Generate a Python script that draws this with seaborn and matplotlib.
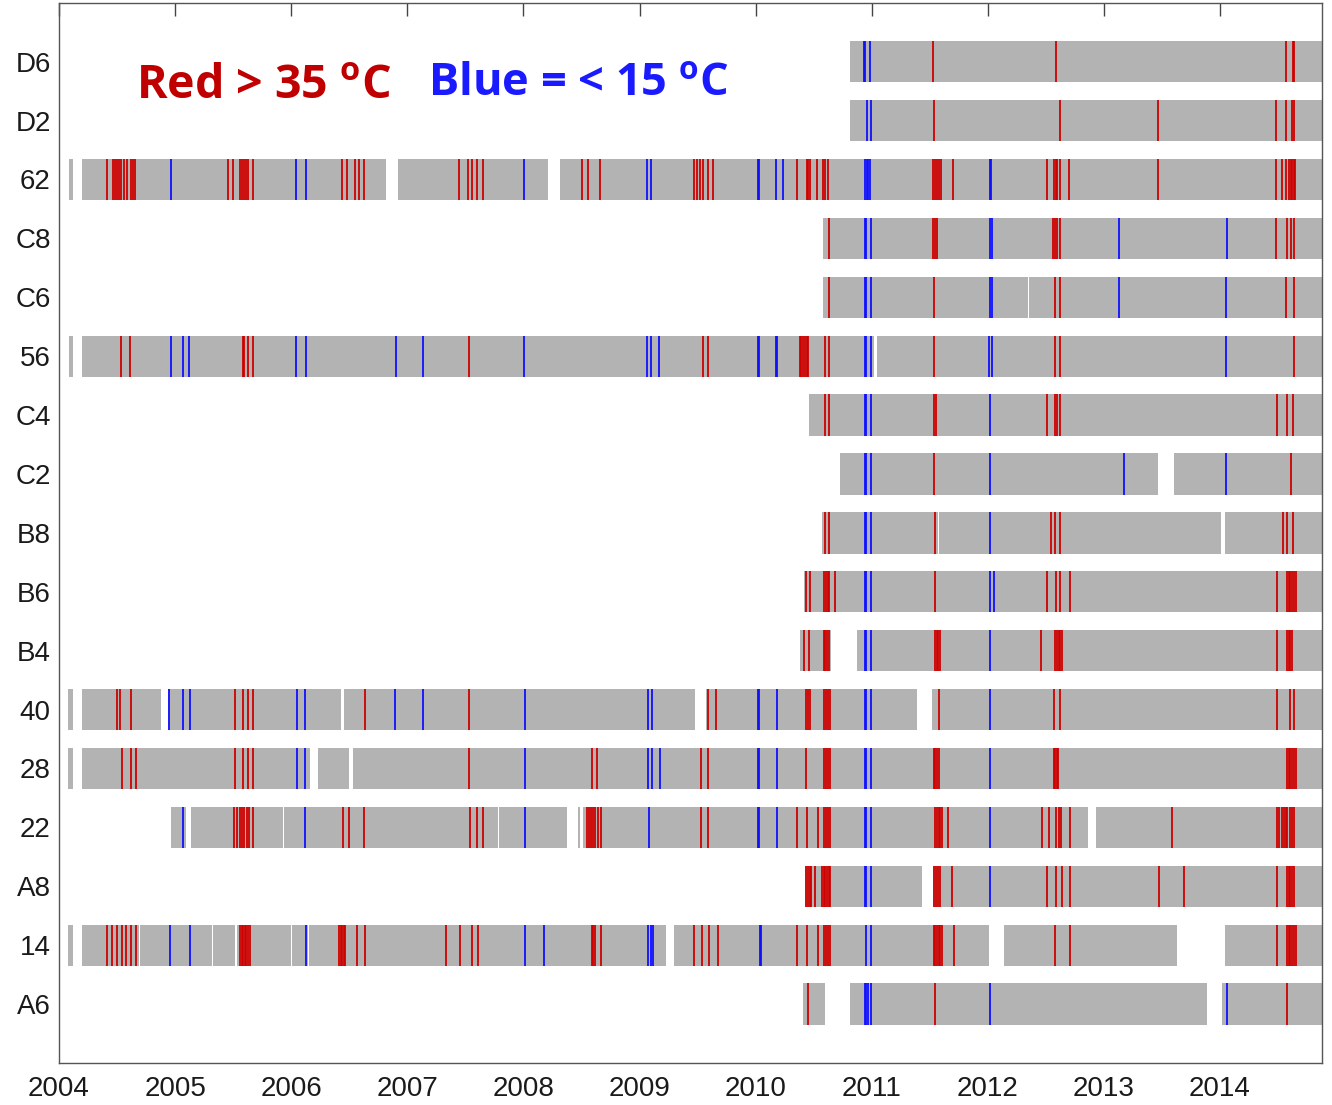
import matplotlib
matplotlib.use("Agg")
import matplotlib.pyplot as plt
import seaborn as sns

# Stations, top to bottom
STATIONS = ["D6", "D2", "62", "C8", "C6", "56", "C4", "C2", "B8",
            "B6", "B4", "40", "28", "22", "A8", "14", "A6"]

END = 2014.88  # records still running at the end of the plotted period

# Logged periods (start, end) in decimal years, plus days above 35 degC (hot)
# and below 15 degC (cold) for each station
D6_SEG = [(2010.81, END)]
D6_HOT = [2011.53, 2012.585, 2014.568, 2014.63, 2014.64]
D6_COLD = [2010.935, 2010.945, 2010.985]

D2_SEG = [(2010.81, END)]
D2_HOT = [2011.537, 2012.622, 2013.466, 2014.485, 2014.568, 2014.62, 2014.635]
D2_COLD = [2010.957, 2010.99]

S62_SEG = [(2004.086, 2004.118), (2004.195, 2006.816), (2006.917, 2008.215), (2008.315, END)]
S62_HOT = [2004.413, 2004.465, 2004.48, 2004.5, 2004.517, 2004.534, 2004.56, 2004.586,
           2004.62, 2004.637, 2004.655, 2005.456, 2005.5, 2005.559, 2005.576, 2005.593,
           2005.61, 2005.628, 2005.671, 2006.435, 2006.478, 2006.55, 2006.584, 2006.627,
           2007.445, 2007.525, 2007.555, 2007.598, 2007.655, 2008.502, 2008.559, 2008.66,
           2009.469, 2009.495, 2009.521, 2009.547, 2009.59, 2009.634, 2010.354, 2010.44,
           2010.455, 2010.469, 2010.526, 2010.58, 2010.6, 2010.62, 2011.53, 2011.545,
           2011.56, 2011.578, 2011.594, 2011.698, 2012.507, 2012.57, 2012.583, 2012.593,
           2012.622, 2012.7, 2013.468, 2014.48, 2014.532, 2014.568, 2014.597, 2014.61,
           2014.623, 2014.636, 2014.646]
S62_COLD = [2004.962, 2006.041, 2006.125, 2008.008, 2009.062, 2009.096, 2010.018,
            2010.028, 2010.176, 2010.239, 2010.942, 2010.955, 2010.968, 2010.985,
            2012.015, 2012.025]

C8_SEG = [(2010.578, END)]
C8_HOT = [2010.63, 2011.53, 2011.545, 2011.56, 2012.565, 2012.58, 2012.595, 2012.622,
          2014.482, 2014.574, 2014.609, 2014.637]
C8_COLD = [2010.94, 2010.952, 2010.99, 2012.019, 2012.04, 2013.133, 2014.058]

C6_SEG = [(2010.578, 2012.345), (2012.355, END)]
C6_HOT = [2010.636, 2011.537, 2012.579, 2012.622, 2014.568, 2014.637]
C6_COLD = [2010.94, 2010.952, 2010.99, 2012.019, 2012.036, 2013.133, 2014.052]

S56_SEG = [(2004.086, 2004.118), (2004.195, 2011.02), (2011.045, END)]
S56_HOT = [2004.534, 2004.612, 2005.582, 2005.595, 2005.631, 2005.673, 2007.534,
           2009.544, 2009.587, 2010.38, 2010.395, 2010.41, 2010.425, 2010.44, 2010.455,
           2010.6, 2010.635, 2011.537, 2012.579, 2012.622, 2014.64]
S56_COLD = [2004.962, 2005.071, 2005.122, 2006.041, 2006.125, 2006.9, 2007.138, 2008.008,
            2009.062, 2009.096, 2009.171, 2010.018, 2010.028, 2010.176, 2010.186,
            2010.94, 2010.952, 2010.99, 2012.013, 2012.036, 2014.052]

C4_SEG = [(2010.46, END)]
C4_HOT = [2010.6, 2010.63, 2011.54, 2011.555, 2012.51, 2012.579, 2012.6, 2012.622,
          2014.49, 2014.575, 2014.63]
C4_COLD = [2010.94, 2010.952, 2010.99, 2012.015]

C2_SEG = [(2010.723, 2013.466), (2013.605, END)]
C2_HOT = [2011.533, 2014.61]
C2_COLD = [2010.94, 2010.952, 2010.99, 2012.015, 2013.174, 2014.052]

B8_SEG = [(2010.575, 2011.568), (2011.578, 2014.005), (2014.04, END)]
B8_HOT = [2010.6, 2010.633, 2011.545, 2012.545, 2012.58, 2012.62, 2014.54, 2014.575, 2014.63]
B8_COLD = [2010.94, 2010.952, 2010.99, 2012.015]

B6_SEG = [(2010.415, END)]
B6_HOT = [2010.435, 2010.465, 2010.59, 2010.605, 2010.62, 2010.635, 2010.68, 2011.545,
          2012.51, 2012.587, 2012.622, 2012.705, 2014.49, 2014.575, 2014.59, 2014.605,
          2014.62, 2014.635, 2014.65]
B6_COLD = [2010.94, 2010.952, 2010.99, 2012.02, 2012.05]

B4_SEG = [(2010.38, 2010.647), (2010.87, END)]
B4_HOT = [2010.415, 2010.458, 2010.585, 2010.6, 2010.615, 2010.63, 2011.545, 2011.56,
          2011.575, 2011.59, 2012.46, 2012.58, 2012.595, 2012.61, 2012.625, 2012.64,
          2014.49, 2014.575, 2014.59, 2014.605, 2014.62]
B4_COLD = [2010.94, 2010.952, 2010.99, 2012.015]

S40_SEG = [(2004.08, 2004.12), (2004.197, 2004.881), (2004.937, 2006.431),
           (2006.458, 2009.474), (2009.572, 2011.386), (2011.52, END)]
S40_HOT = [2004.497, 2004.525, 2004.616, 2005.516, 2005.586, 2005.628, 2005.67, 2006.633,
           2007.533, 2009.593, 2009.663, 2010.437, 2010.45, 2010.465, 2010.59, 2010.605,
           2010.62, 2010.64, 2011.58, 2012.573, 2012.62, 2014.49, 2014.6, 2014.635]
S40_COLD = [2004.951, 2005.07, 2005.126, 2006.047, 2006.123, 2006.898, 2007.135, 2008.015,
            2009.069, 2009.104, 2010.02, 2010.03, 2010.186, 2010.94, 2010.952, 2010.99,
            2012.015]

S28_SEG = [(2004.08, 2004.12), (2004.197, 2006.158), (2006.228, 2006.5), (2006.536, END)]
S28_HOT = [2004.539, 2004.616, 2004.665, 2005.516, 2005.586, 2005.628, 2005.67, 2007.533,
           2008.594, 2008.636, 2009.53, 2009.593, 2010.437, 2010.59, 2010.605, 2010.62,
           2010.64, 2011.533, 2011.548, 2011.565, 2011.58, 2012.566, 2012.58, 2012.595,
           2012.608, 2014.575, 2014.59, 2014.605, 2014.62, 2014.635, 2014.65]
S28_COLD = [2006.047, 2006.123, 2008.015, 2009.069, 2009.104, 2009.174, 2010.02, 2010.03,
            2010.186, 2010.94, 2010.952, 2010.99, 2012.015]

S22_SEG = [(2004.965, 2005.09), (2005.14, 2005.925), (2005.935, 2007.78), (2007.79, 2008.378),
           (2008.47, 2008.49), (2008.51, 2012.86), (2012.93, END)]
S22_HOT = [2005.51, 2005.535, 2005.555, 2005.575, 2005.595, 2005.615, 2005.64, 2005.67,
           2006.444, 2006.5, 2006.626, 2007.54, 2007.596, 2007.652, 2008.545, 2008.565,
           2008.585, 2008.6, 2008.62, 2008.64, 2008.664, 2009.53,
           2009.593, 2010.36, 2010.444, 2010.535, 2010.59, 2010.605, 2010.62, 2010.64,
           2011.547, 2011.562, 2011.577, 2011.59, 2011.603, 2011.657, 2012.468, 2012.524,
           2012.59, 2012.61, 2012.63, 2012.705, 2013.585, 2014.49, 2014.51, 2014.53,
           2014.55, 2014.565, 2014.58, 2014.6, 2014.62, 2014.64]
S22_COLD = [2005.07, 2006.123, 2008.015, 2009.083, 2010.02, 2010.03, 2010.186, 2010.94,
            2010.952, 2010.99, 2012.015]

A8_SEG = [(2010.423, 2011.435), (2011.526, END)]
A8_HOT = [2010.437, 2010.45, 2010.465, 2010.478, 2010.513, 2010.569, 2010.585, 2010.6,
          2010.615, 2010.63, 2010.64, 2011.54, 2011.555, 2011.57, 2011.588, 2011.693,
          2012.51, 2012.587, 2012.635, 2012.705, 2013.474, 2013.69, 2014.49, 2014.575,
          2014.59, 2014.605, 2014.62, 2014.635]
A8_COLD = [2010.94, 2010.952, 2010.99, 2012.015]

S14_SEG = [(2004.08, 2004.12), (2004.197, 2004.685), (2004.695, 2005.315), (2005.325, 2005.512),
           (2005.53, 2005.995), (2006.005, 2006.145), (2006.155, 2009.225), (2009.3, 2012.008),
           (2012.138, 2013.627), (2014.04, END)]
S14_HOT = [2004.413, 2004.455, 2004.497, 2004.539, 2004.581, 2004.623, 2004.665, 2005.558,
           2005.572, 2005.586, 2005.6, 2005.614, 2005.628, 2005.642, 2006.41, 2006.425,
           2006.44, 2006.455, 2006.466, 2006.563, 2006.633, 2007.331, 2007.457, 2007.555,
           2007.61, 2008.588, 2008.6, 2008.615, 2008.664, 2009.467, 2009.537, 2009.6,
           2009.676, 2010.36, 2010.444, 2010.535, 2010.59, 2010.605, 2010.62, 2010.64,
           2011.533, 2011.548, 2011.563, 2011.578, 2011.59, 2011.603, 2011.707, 2012.58,
           2012.712, 2014.49, 2014.575, 2014.59, 2014.605, 2014.62, 2014.635, 2014.65]
S14_COLD = [2004.958, 2005.126, 2006.13, 2008.015, 2008.175, 2009.076, 2009.097,
            2009.118, 2010.035, 2010.045, 2010.947, 2010.99]

A6_SEG = [(2010.41, 2010.6), (2010.81, 2013.885), (2014.015, END)]
A6_HOT = [2010.454, 2011.548, 2014.58]
A6_COLD = [2010.94, 2010.952, 2010.965, 2010.99, 2012.02, 2014.063]

YEARS = list(range(2004, 2015))

SEGMENTS = [D6_SEG, D2_SEG, S62_SEG, C8_SEG, C6_SEG, S56_SEG, C4_SEG, C2_SEG, B8_SEG,
            B6_SEG, B4_SEG, S40_SEG, S28_SEG, S22_SEG, A8_SEG, S14_SEG, A6_SEG]
HOT = [D6_HOT, D2_HOT, S62_HOT, C8_HOT, C6_HOT, S56_HOT, C4_HOT, C2_HOT, B8_HOT,
       B6_HOT, B4_HOT, S40_HOT, S28_HOT, S22_HOT, A8_HOT, S14_HOT, A6_HOT]
COLD = [D6_COLD, D2_COLD, S62_COLD, C8_COLD, C6_COLD, S56_COLD, C4_COLD, C2_COLD, B8_COLD,
        B6_COLD, B4_COLD, S40_COLD, S28_COLD, S22_COLD, A8_COLD, S14_COLD, A6_COLD]

sns.set_theme(style="white")
plt.rcParams["font.family"] = ["Liberation Sans", "DejaVu Sans"]
plt.rcParams["mathtext.fontset"] = "custom"
plt.rcParams["mathtext.rm"] = "Open Sans:bold"
plt.rcParams["mathtext.bf"] = "Open Sans:bold"

GREY = "#b3b3b3"
RED = "#cf0000"
BLUE = "#1010ff"
BAR_H = 0.70

fig = plt.figure(figsize=(13.32, 11.05), dpi=100)
ax = fig.add_axes([0.0443, 0.038, 0.948, 0.9595])

n = len(STATIONS)
for i, name in enumerate(STATIONS):
    y = n - i
    for start, stop in SEGMENTS[i]:
        ax.barh(y, stop - start, left=start, height=BAR_H, color=GREY,
                edgecolor="none", zorder=1)
    ax.vlines(HOT[i], y - BAR_H / 2, y + BAR_H / 2, colors=RED, linewidth=1.3, zorder=2)
    ax.vlines(COLD[i], y - BAR_H / 2, y + BAR_H / 2, colors=BLUE, linewidth=1.3, zorder=3)

ax.set_xlim(2004, 2014.876)
ax.set_ylim(0, n + 1)
ax.set_xticks(YEARS)
ax.set_xticklabels([str(v) for v in YEARS])
ax.set_yticks(range(n, 0, -1))
ax.set_yticklabels(STATIONS)

ax.tick_params(axis="x", direction="in", length=9, width=1.0, color="#444444",
               top=True, labeltop=False, pad=9, labelsize=20, labelcolor="#1a1a1a")
ax.tick_params(axis="y", length=0, pad=6, labelsize=20, labelcolor="#1a1a1a")
for spine in ax.spines.values():
    spine.set_visible(True)
    spine.set_color("#555555")
    spine.set_linewidth(1.0)

ax.text(2004.665, 16.6, r"Red > 35 $^{\mathbf{o}}$C", color="#c00000",
        fontsize=33.5, fontweight="bold", family="Open Sans", va="center", ha="left")
ax.text(2007.18, 16.6, r"Blue = < 15 $^{\mathbf{o}}$C", color="#1a1aff",
        fontsize=32.5, fontweight="bold", family="Open Sans", va="center", ha="left")

fig.savefig("out.png", dpi=100, facecolor="white")
